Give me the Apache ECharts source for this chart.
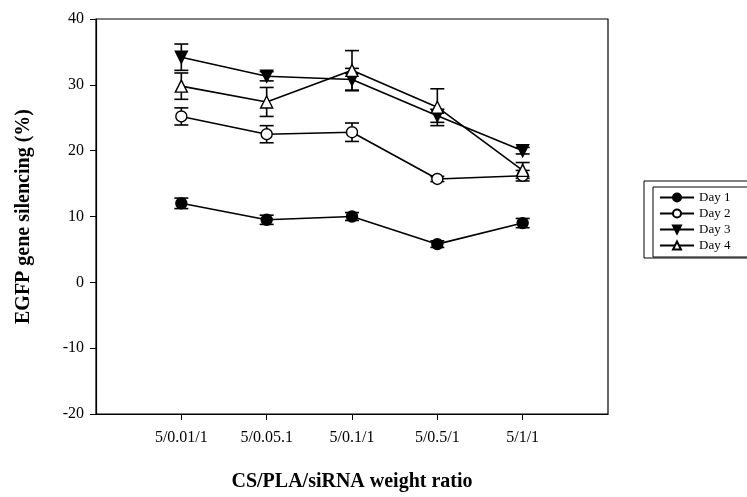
<!DOCTYPE html>
<html>
<head>
<meta charset="utf-8">
<script src="https://cdn.jsdelivr.net/npm/echarts@6/dist/echarts.min.js"></script>
<style>
  html, body { margin: 0; padding: 0; background: #fff; }
  #chart { width: 747px; height: 497px; }
</style>
</head>
<body>
<div id="chart"></div>
<script>
// Weight ratios on the x axis (placed at positions 1..5)
const ratios = ['5/0.01/1', '5/0.05.1', '5/0.1/1', '5/0.5/1', '5/1/1'];
const positions = [1, 2, 3, 4, 5];

// Silencing (%) per day with standard deviations
const day1 = [12.0, 9.5, 10.0, 5.8, 9.0];
const day1Err = [0.8, 0.7, 0.6, 0.5, 0.7];
const day2 = [25.2, 22.5, 22.8, 15.7, 16.2];
const day2Err = [1.3, 1.3, 1.4, 0.4, 0.8];
const day3 = [34.2, 31.3, 30.8, 25.3, 20.0];
const day3Err = [2.0, 0.7, 1.7, 1.0, 0.5];
const day4 = [29.8, 27.4, 32.2, 26.6, 17.0];
const day4Err = [2.0, 2.2, 3.0, 2.8, 1.2];

const yTicks = [-20, -10, 0, 10, 20, 30, 40];

const FONT = '"Liberation Serif", "Times New Roman", serif';

function pairs(vals) { return positions.map((p, i) => [p, vals[i]]); }
function errRows(vals, errs) { return positions.map((p, i) => [p, vals[i] - errs[i], vals[i] + errs[i]]); }

function errorSeries(vals, errs) {
  return {
    type: 'custom',
    silent: true,
    z: 1,
    renderItem: function (params, api) {
      const x = api.value(0);
      const lo = api.coord([x, api.value(1)]);
      const hi = api.coord([x, api.value(2)]);
      const cap = 7;
      const style = { stroke: '#000', lineWidth: 1.6 };
      return {
        type: 'group',
        children: [
          { type: 'line', shape: { x1: lo[0], y1: lo[1], x2: hi[0], y2: hi[1] }, style: style },
          { type: 'line', shape: { x1: lo[0] - cap, y1: lo[1], x2: lo[0] + cap, y2: lo[1] }, style: style },
          { type: 'line', shape: { x1: hi[0] - cap, y1: hi[1], x2: hi[0] + cap, y2: hi[1] }, style: style }
        ]
      };
    },
    encode: { x: 0, y: [1, 2] },
    data: errRows(vals, errs)
  };
}

function lineSeries(name, vals, symbol, filled, rotate) {
  return {
    name: name,
    type: 'line',
    z: 3,
    data: pairs(vals),
    symbol: symbol,
    symbolSize: symbol === 'circle' ? 11 : 12,
    symbolRotate: rotate || 0,
    showAllSymbol: true,
    lineStyle: { color: '#000', width: 1.6 },
    itemStyle: { color: filled ? '#000' : '#fff', borderColor: '#000', borderWidth: 1.4 },
    emphasis: { disabled: true },
    animation: false
  };
}

const chart = echarts.init(document.getElementById('chart'), null, { renderer: 'canvas' });
chart.setOption({
  animation: false,
  backgroundColor: '#fff',
  grid: {
    left: 96, top: 19, width: 512, height: 395,
    containLabel: false,
    outerBoundsMode: 'none',
    show: true, borderColor: '#000', borderWidth: 1.2, backgroundColor: 'transparent'
  },
  xAxis: {
    type: 'value',
    min: 0, max: 6, interval: 1,
    name: 'CS/PLA/siRNA weight ratio',
    nameLocation: 'middle',
    nameGap: 58,
    nameTextStyle: { fontFamily: FONT, fontSize: 20, fontWeight: 'bold', color: '#000' },
    axisLine: { onZero: false, lineStyle: { color: '#000', width: 1.2 } },
    axisTick: { show: true, length: 6, customValues: positions, lineStyle: { color: '#000' } },
    axisLabel: {
      customValues: positions,
      margin: 16,
      fontFamily: FONT, fontSize: 16, color: '#000',
      formatter: function (v) { return ratios[positions.indexOf(v)] || ''; }
    },
    splitLine: { show: false }
  },
  yAxis: {
    type: 'value',
    min: -20, max: 40, interval: 10,
    name: 'EGFP gene silencing (%)',
    nameLocation: 'middle',
    nameGap: 62,
    nameTextStyle: { fontFamily: FONT, fontSize: 20, fontWeight: 'bold', color: '#000' },
    axisLine: { onZero: false, lineStyle: { color: '#000', width: 1.2 } },
    axisTick: { show: true, length: 6, lineStyle: { color: '#000' } },
    axisLabel: {
      margin: 12,
      fontFamily: FONT, fontSize: 16, color: '#000',
      formatter: function (v) { return yTicks.indexOf(v) >= 0 ? String(v) : ''; }
    },
    splitLine: { show: false }
  },
  legend: {
    orient: 'vertical',
    left: 653, top: 187,
    padding: [3, 40, 4, 6],
    itemGap: 1,
    itemWidth: 34, itemHeight: 10,
    borderColor: '#000', borderWidth: 1,
    textStyle: { fontFamily: FONT, fontSize: 13, color: '#000', lineHeight: 15 },
    data: ['Day 1', 'Day 2', 'Day 3', 'Day 4']
  },
  graphic: [{
    type: 'rect',
    shape: { x: 644, y: 181, width: 140, height: 77 },
    style: { fill: 'none', stroke: '#000', lineWidth: 1 },
    silent: true
  }],
  series: [
    errorSeries(day1, day1Err),
    errorSeries(day2, day2Err),
    errorSeries(day3, day3Err),
    errorSeries(day4, day4Err),
    lineSeries('Day 1', day1, 'circle', true),
    lineSeries('Day 2', day2, 'circle', false),
    lineSeries('Day 3', day3, 'triangle', true, 180),
    lineSeries('Day 4', day4, 'triangle', false)
  ]
});
</script>
</body>
</html>
